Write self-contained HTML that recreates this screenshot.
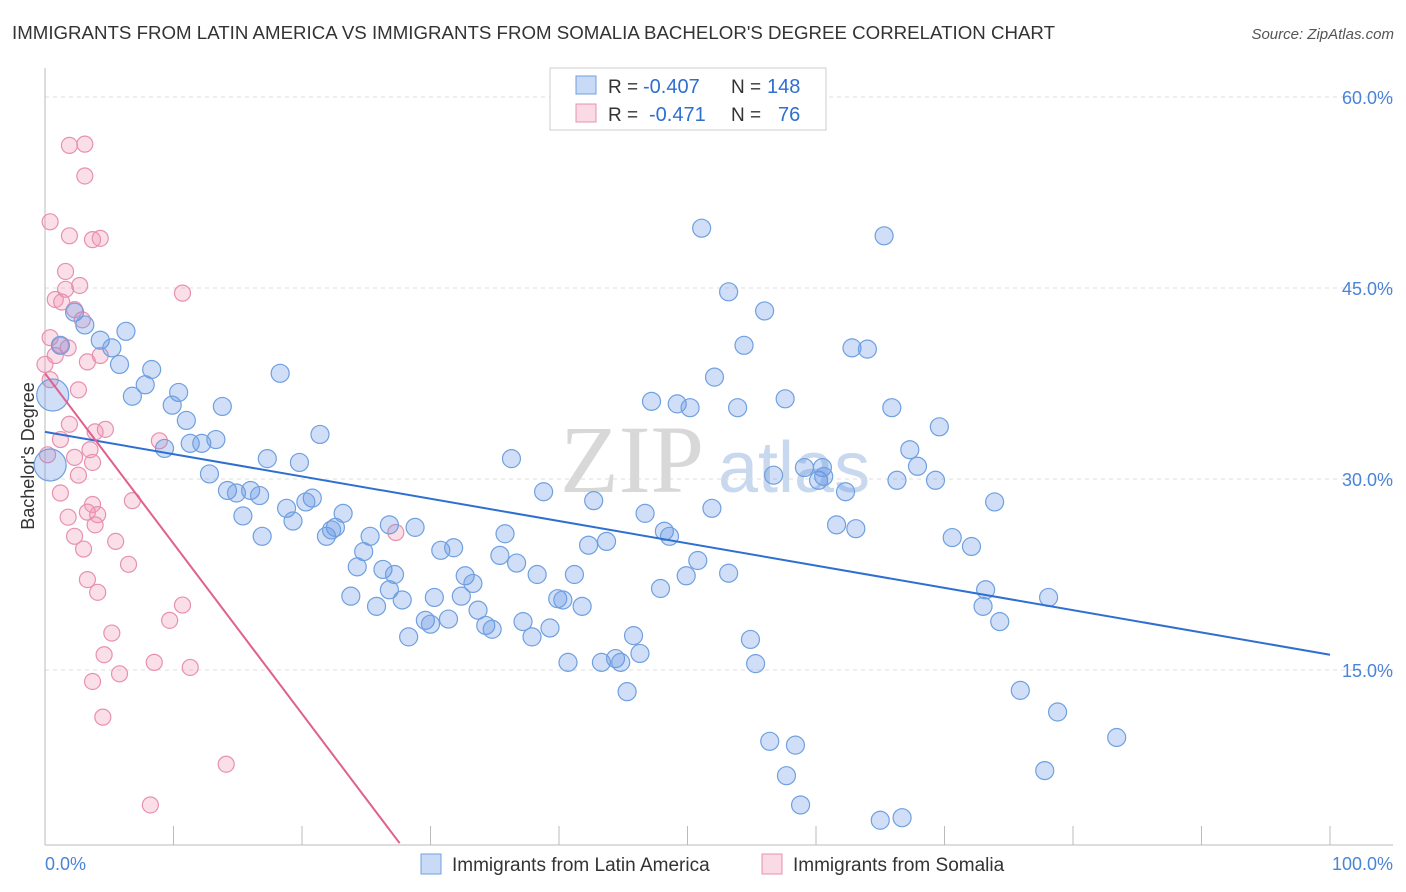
<!DOCTYPE html>
<html><head><meta charset="utf-8">
<style>
body{margin:0;background:#fff;font-family:"Liberation Sans",sans-serif;}
svg{display:block}
</style></head><body>
<svg id="chart" width="1406" height="892" xmlns="http://www.w3.org/2000/svg">
<text x="12" y="39" font-size="18" fill="#333" textLength="1043" lengthAdjust="spacingAndGlyphs">IMMIGRANTS FROM LATIN AMERICA VS IMMIGRANTS FROM SOMALIA BACHELOR'S DEGREE CORRELATION CHART</text>
<text x="1394" y="39" font-size="15" fill="#555" font-style="italic" text-anchor="end">Source: ZipAtlas.com</text>
<text x="560" y="492" font-size="96" fill="#d8d8d8" font-family="Liberation Serif">ZIP</text>
<text x="718" y="492" font-size="72" fill="#c8d8ee">atlas</text>
<g id="grid"></g>
<g id="axes"></g>
<g id="pts"></g>
<g id="lines"></g>
<text transform="translate(34,456) rotate(-90)" font-size="18" fill="#333" text-anchor="middle">Bachelor's Degree</text>
<g>
<rect x="550" y="68" width="276" height="62" fill="#fff" stroke="#ccc"/>
<rect x="576" y="76" width="20" height="18" fill="rgba(100,150,230,0.35)" stroke="#6fa0e0"/>
<rect x="576" y="104" width="20" height="18" fill="rgba(240,150,180,0.35)" stroke="#e890b0"/>
<text x="608" y="93" font-size="19" fill="#333">R =</text>
<text x="643" y="93" font-size="20" fill="#2f6fd0">-0.407</text>
<text x="731" y="93" font-size="19" fill="#333">N =</text>
<text x="767" y="93" font-size="20" fill="#2f6fd0">148</text>
<text x="608" y="121" font-size="19" fill="#333">R =</text>
<text x="649" y="121" font-size="20" fill="#2f6fd0">-0.471</text>
<text x="731" y="121" font-size="19" fill="#333">N =</text>
<text x="778" y="121" font-size="20" fill="#2f6fd0">76</text>
</g>
<g>
<rect x="421" y="854" width="20" height="20" fill="rgba(100,150,230,0.35)" stroke="#6fa0e0"/>
<text x="452" y="871" font-size="19" fill="#333">Immigrants from Latin America</text>
<rect x="762" y="854" width="20" height="20" fill="rgba(240,150,180,0.35)" stroke="#e890b0"/>
<text x="793" y="871" font-size="19" fill="#333">Immigrants from Somalia</text>
</g>
</svg>
<script>
const yTicks=[15,30,45,60];
const yTickLabels=["15.0%","30.0%","45.0%","60.0%"];
const xTickVals=[0,10,20,30,40,50,60,70,80,90,100];
const blueX=[51.1,65.3,53.2,56.0,54.4,62.8,64.0,6.3,2.3,3.1,4.3,5.2,1.2,5.8,8.3,7.8,6.8,10.4,9.9,13.8,18.3,11.0,11.3,12.2,13.3,9.3,17.3,12.8,14.2,14.9,16.0,15.4,16.7,21.4,19.8,18.8,20.8,20.3,19.3,16.9,21.9,22.6,23.2,22.3,25.3,24.8,24.3,26.8,28.8,26.3,27.2,23.8,25.8,26.8,27.8,28.3,29.6,30.0,31.4,30.3,30.8,31.8,32.7,33.3,32.4,33.7,34.3,34.8,35.4,35.8,36.3,36.7,37.2,37.9,38.3,38.8,39.3,39.9,40.3,41.2,41.8,40.7,42.3,42.7,43.7,43.3,44.4,44.8,45.3,45.8,46.3,46.7,47.2,47.9,48.2,48.6,49.2,49.9,50.2,50.8,51.9,52.1,53.2,53.9,54.9,55.3,56.4,56.7,57.6,57.7,58.4,58.8,59.1,60.2,60.5,60.6,61.6,62.3,63.1,65.0,65.9,66.3,66.7,67.3,67.9,69.3,69.6,70.6,72.1,73.2,73.0,73.9,74.3,75.9,78.1,77.8,78.8,83.4,0.6,0.4];
const blueY=[49.7,49.1,44.7,43.2,40.5,40.3,40.2,41.6,43.1,42.1,40.9,40.3,40.5,39.0,38.6,37.4,36.5,36.8,35.8,35.7,38.3,34.6,32.8,32.8,33.1,32.4,31.6,30.4,29.1,28.9,29.1,27.1,28.7,33.5,31.3,27.7,28.5,28.2,26.7,25.5,25.5,26.2,27.3,26.0,25.5,24.3,23.1,26.4,26.2,22.9,22.5,20.8,20.0,21.3,20.5,17.6,18.9,18.6,19.0,20.7,24.4,24.6,22.4,21.8,20.8,19.7,18.5,18.2,24.0,25.7,31.6,23.4,18.8,17.6,22.5,29.0,18.3,20.6,20.5,22.5,20.0,15.6,24.8,28.3,25.1,15.6,15.9,15.6,13.3,17.7,16.3,27.3,36.1,21.4,25.9,25.5,35.9,22.4,35.6,23.6,27.7,38.0,22.6,35.6,17.4,15.5,9.4,30.3,36.3,6.7,9.1,4.4,30.9,29.9,30.9,30.2,26.4,29.0,26.1,3.2,35.6,29.9,3.4,32.3,31.0,29.9,34.1,25.4,24.7,21.3,20.0,28.2,18.8,13.4,20.7,7.1,11.7,9.7,36.6,31.1];
const pinkX=[0.4,1.9,3.1,3.1,1.9,3.7,4.3,1.6,1.6,2.7,0.8,1.3,2.3,2.9,0.4,1.2,1.8,0.8,0,3.3,4.3,0.4,2.6,10.7,1.9,1.2,3.9,4.7,0.2,2.3,3.5,3.7,8.9,2.6,1.2,3.7,6.8,1.8,3.3,4.1,3.9,5.5,2.3,3.0,6.5,3.3,4.1,10.7,9.7,5.2,4.6,8.5,11.3,3.7,5.8,4.5,14.1,8.2,27.3];
const pinkY=[50.2,56.2,56.3,53.8,49.1,48.8,48.9,46.3,44.9,45.2,44.1,43.9,43.3,42.5,41.1,40.5,40.3,39.7,39.0,39.2,39.7,37.8,37.0,44.6,34.3,33.1,33.7,33.9,31.9,31.7,32.3,31.3,33.0,30.3,28.9,28.0,28.3,27.0,27.4,27.2,26.4,25.1,25.5,24.5,23.3,22.1,21.1,20.1,18.9,17.9,16.2,15.6,15.2,14.1,14.7,11.3,7.6,4.4,25.8];
const blueLine=[33.7,-0.175,0,100];
const pinkLine=[38.3,-1.337,0,27.6];
const NS="http://www.w3.org/2000/svg";
const sx=v=>45+v*12.85, sy=v=>861-v*12.733;
function mk(tag,attrs,parent){const e=document.createElementNS(NS,tag);for(const k in attrs)e.setAttribute(k,attrs[k]);document.getElementById(parent).appendChild(e);return e;}
yTicks.forEach((t,i)=>{
 const g=mk('line',{x1:45,x2:1393,y1:sy(t),y2:sy(t),stroke:'#ddd','stroke-dasharray':'4,4'},'grid');
 
 
 const l=mk('text',{x:1393,y:sy(t)+7,'font-size':18,fill:'#4a84d8','text-anchor':'end'},'axes');
 l.textContent=yTickLabels[i];
 
 
});
const ya=mk('line',{x1:45,x2:45,y1:68,y2:845,stroke:'#bbb'},'axes');


const xa=mk('line',{x1:45,x2:1393,y1:845,y2:845,stroke:'#bbb'},'axes');


xTickVals.forEach(v=>{const t=mk('line',{x1:sx(v),x2:sx(v),y1:826,y2:845,stroke:'#bbb'},'axes');
 
 });
const x0=mk('text',{x:45,y:870,'font-size':18,fill:'#4a84d8'},'axes');x0.textContent='0.0%';


const x1=mk('text',{x:1393,y:870,'font-size':18,fill:'#4a84d8','text-anchor':'end'},'axes');x1.textContent='100.0%';


pinkX.forEach((x,i)=>{const c=mk('circle',{cx:sx(x),cy:sy(pinkY[i]),r:8,fill:'rgba(240,150,180,0.3)',stroke:'#e890b0','stroke-width':1.2},'pts');
 
 });
blueX.forEach((x,i)=>{const big=i>=blueX.length-2;const c=mk('circle',{cx:sx(x),cy:sy(blueY[i]),r:big?16:9,fill:'rgba(100,150,230,0.3)',stroke:'#6fa0e0','stroke-width':1.2},'pts');
 
 });
[[blueLine,'#2f6fd0','latin-america-trendline'],[pinkLine,'#e0608f','somalia-trendline']].forEach(([L,col,n])=>{
 const l=mk('line',{x1:sx(L[2]),y1:sy(L[0]+L[1]*L[2]),x2:sx(L[3]),y2:sy(L[0]+L[1]*L[3]),stroke:col,'stroke-width':2},'lines');
 
 
});
</script>
</body></html>
